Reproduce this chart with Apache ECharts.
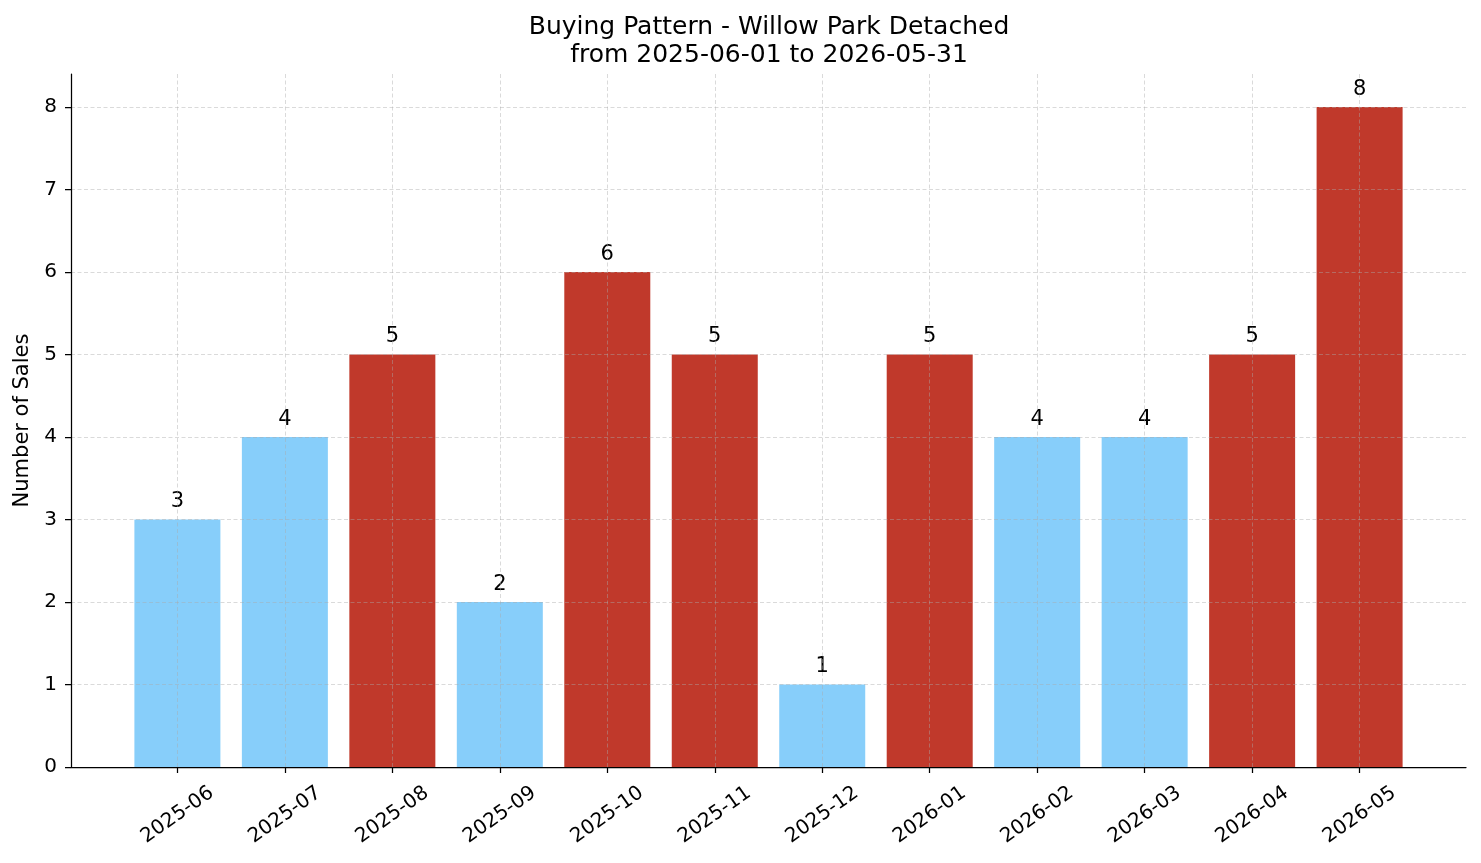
<!DOCTYPE html>
<html>
<head>
<meta charset="utf-8">
<script src="https://cdn.jsdelivr.net/npm/echarts@6/dist/echarts.min.js"></script>
<style>html,body{margin:0;padding:0;background:#fff}#c{width:1481px;height:863px}</style>
</head>
<body>
<div id="c"></div>
<script>
const titleText = 'Buying Pattern - Willow Park Detached\nfrom 2025-06-01 to 2026-05-31';
const yAxisName = 'Number of Sales';
const months = ['2025-06','2025-07','2025-08','2025-09','2025-10','2025-11','2025-12','2026-01','2026-02','2026-03','2026-04','2026-05'];
const sales = [3, 4, 5, 2, 6, 5, 1, 5, 4, 4, 5, 8];
const yTicks = [0, 1, 2, 3, 4, 5, 6, 7, 8];
const xTicks = months.map((m, i) => i);

const BLUE = '#87CEFA', RED = '#C0392B';
const mean = sales.reduce((a, b) => a + b, 0) / sales.length;
const FONT = 'DejaVu Sans';

const chart = echarts.init(document.getElementById('c'), null, {renderer: 'canvas'});
chart.setOption({
  animation: false,
  backgroundColor: '#fff',
  textStyle: {fontFamily: FONT},
  title: {
    text: titleText,
    left: 764, top: 8, textAlign: 'center',
    textStyle: {fontFamily: FONT, fontSize: 25, fontWeight: 'normal', color: '#000', lineHeight: 28}
  },
  grid: {left: 71, right: 15, top: 74, bottom: 96, containLabel: false},
  xAxis: {
    type: 'value', min: -0.99, max: 11.99, z: 3,
    axisLine: {show: true, onZero: false, lineStyle: {color: '#000', width: 1.25}},
    axisTick: {show: true, length: 6, customValues: xTicks, lineStyle: {color: '#000', width: 1.25}},
    axisLabel: {
      customValues: xTicks, rotate: 35, align: 'center', verticalAlign: 'middle', margin: 48,
      fontSize: 20, color: '#000', fontFamily: FONT,
      formatter: v => months[Math.round(v)] || ''
    },
    splitLine: {show: true, lineStyle: {color: 'rgba(170,170,170,0.55)', width: 0.8, type: [4, 2.5]}}
  },
  yAxis: {
    type: 'value', min: 0, max: 8.4, z: 3,
    name: yAxisName, nameLocation: 'middle', nameGap: 36, nameRotate: 90,
    nameTextStyle: {fontSize: 21, color: '#000', fontFamily: FONT},
    axisLine: {show: true, onZero: false, lineStyle: {color: '#000', width: 1.25}},
    axisTick: {show: true, length: 6, customValues: yTicks, lineStyle: {color: '#000', width: 1.25}},
    axisLabel: {customValues: yTicks, margin: 14, fontSize: 20, color: '#000', fontFamily: FONT},
    splitLine: {show: true, lineStyle: {color: 'rgba(170,170,170,0.55)', width: 0.8, type: [4, 2.5]}}
  },
  series: [{
    type: 'bar', barWidth: 86, z: 2,
    data: sales.map((v, i) => ({value: [i, v], itemStyle: {color: v > mean ? RED : BLUE}})),
    label: {show: true, position: 'top', distance: 7, fontSize: 21, color: '#000', fontFamily: FONT,
      formatter: p => String(p.value[1])}
  }]
});
</script>
</body>
</html>
